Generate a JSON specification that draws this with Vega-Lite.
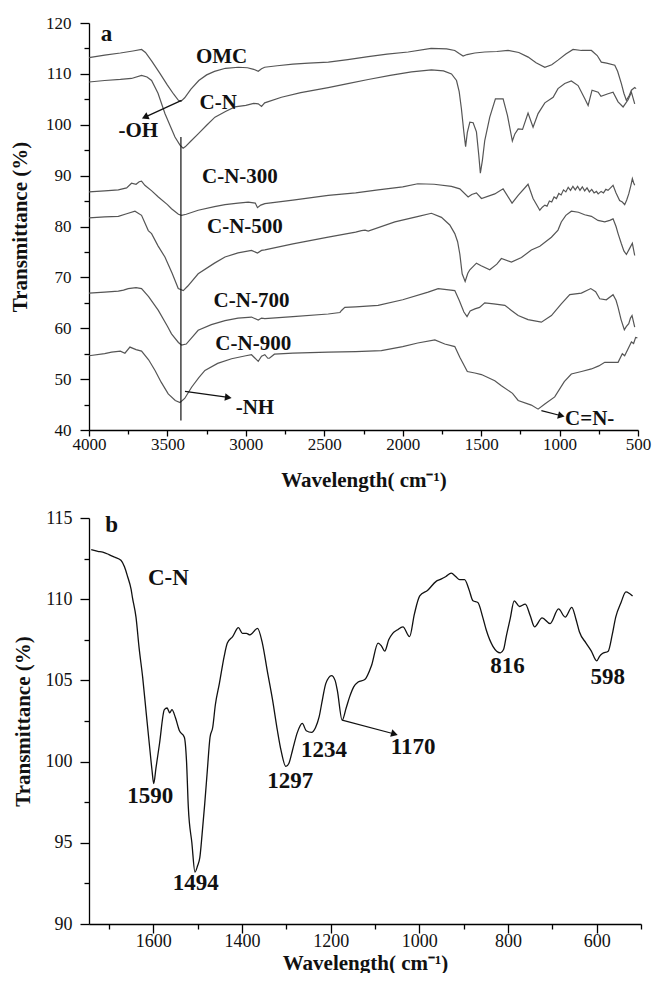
{
  "$schema": "https://vega.github.io/schema/vega-lite/v6.json",
  "background": "white",
  "padding": {"left": 9, "top": 14, "right": 6, "bottom": 0},
  "spacing": 19,
  "config": {
    "view": {"stroke": null},
    "axis": {"grid": false, "domainColor": "#000", "tickColor": "#000", "labelColor": "#111", "titleColor": "#111", "labelFont": "Liberation Serif", "titleFont": "Liberation Serif", "titleFontWeight": "bold", "domainWidth": 1.3, "tickWidth": 1.3}
  },
  "datasets": {
    "a": [
      {"s":"OMC","w":4000,"T":113.2},{"s":"OMC","w":3900,"T":113.7},{"s":"OMC","w":3800,"T":114.1},{"s":"OMC","w":3720,"T":114.5},{"s":"OMC","w":3665,"T":114.8},{"s":"OMC","w":3640,"T":114.2},{"s":"OMC","w":3600,"T":112.5},{"s":"OMC","w":3550,"T":110.2},{"s":"OMC","w":3500,"T":107.8},{"s":"OMC","w":3460,"T":106},{"s":"OMC","w":3430,"T":104.8},{"s":"OMC","w":3414,"T":104.6},{"s":"OMC","w":3390,"T":105.3},{"s":"OMC","w":3350,"T":107},{"s":"OMC","w":3300,"T":108.7},{"s":"OMC","w":3250,"T":109.8},{"s":"OMC","w":3200,"T":110.5},{"s":"OMC","w":3130,"T":111.1},{"s":"OMC","w":3048,"T":111.3},{"s":"OMC","w":2990,"T":111.2},{"s":"OMC","w":2950,"T":110.9},{"s":"OMC","w":2921,"T":110.5},{"s":"OMC","w":2900,"T":111},{"s":"OMC","w":2880,"T":111.3},{"s":"OMC","w":2800,"T":111.6},{"s":"OMC","w":2700,"T":111.9},{"s":"OMC","w":2600,"T":112.1},{"s":"OMC","w":2474,"T":112.3},{"s":"OMC","w":2350,"T":112.8},{"s":"OMC","w":2220,"T":113.4},{"s":"OMC","w":2100,"T":113.9},{"s":"OMC","w":1965,"T":114.3},{"s":"OMC","w":1819,"T":115},{"s":"OMC","w":1720,"T":114.9},{"s":"OMC","w":1668,"T":114.6},{"s":"OMC","w":1640,"T":114},{"s":"OMC","w":1615,"T":113.5},{"s":"OMC","w":1590,"T":113.8},{"s":"OMC","w":1540,"T":114.1},{"s":"OMC","w":1477,"T":114.3},{"s":"OMC","w":1400,"T":114.4},{"s":"OMC","w":1328,"T":114.6},{"s":"OMC","w":1260,"T":114.2},{"s":"OMC","w":1200,"T":113.3},{"s":"OMC","w":1150,"T":112.2},{"s":"OMC","w":1094,"T":111.3},{"s":"OMC","w":1050,"T":111.8},{"s":"OMC","w":1010,"T":112.7},{"s":"OMC","w":960,"T":113.9},{"s":"OMC","w":914,"T":114.8},{"s":"OMC","w":860,"T":114.6},{"s":"OMC","w":797,"T":114.6},{"s":"OMC","w":760,"T":113.6},{"s":"OMC","w":734,"T":112.3},{"s":"OMC","w":700,"T":112.1},{"s":"OMC","w":648,"T":111.7},{"s":"OMC","w":630,"T":110.5},{"s":"OMC","w":606,"T":108.1},{"s":"OMC","w":590,"T":106.2},{"s":"OMC","w":574,"T":104.8},{"s":"OMC","w":555,"T":105.8},{"s":"OMC","w":542,"T":106.8},{"s":"OMC","w":521,"T":107.3},{"s":"OMC","w":512,"T":107.1},
      {"s":"CN","w":4000,"T":108.4},{"s":"CN","w":3900,"T":108.7},{"s":"CN","w":3800,"T":108.9},{"s":"CN","w":3729,"T":109.1},{"s":"CN","w":3665,"T":109.7},{"s":"CN","w":3630,"T":109.4},{"s":"CN","w":3601,"T":108.7},{"s":"CN","w":3560,"T":106.2},{"s":"CN","w":3516,"T":102.2},{"s":"CN","w":3480,"T":99.6},{"s":"CN","w":3452,"T":97.6},{"s":"CN","w":3420,"T":96},{"s":"CN","w":3400,"T":95.4},{"s":"CN","w":3385,"T":95.7},{"s":"CN","w":3350,"T":96.8},{"s":"CN","w":3304,"T":98.2},{"s":"CN","w":3250,"T":99.9},{"s":"CN","w":3197,"T":101.5},{"s":"CN","w":3130,"T":102.6},{"s":"CN","w":3070,"T":103.5},{"s":"CN","w":3000,"T":103.8},{"s":"CN","w":2950,"T":104.2},{"s":"CN","w":2921,"T":104.1},{"s":"CN","w":2900,"T":103.6},{"s":"CN","w":2880,"T":104.3},{"s":"CN","w":2773,"T":105.4},{"s":"CN","w":2650,"T":106.3},{"s":"CN","w":2475,"T":107.3},{"s":"CN","w":2350,"T":108.1},{"s":"CN","w":2220,"T":108.9},{"s":"CN","w":2080,"T":109.7},{"s":"CN","w":1944,"T":110.4},{"s":"CN","w":1817,"T":110.8},{"s":"CN","w":1740,"T":110.6},{"s":"CN","w":1689,"T":110},{"s":"CN","w":1657,"T":108.7},{"s":"CN","w":1640,"T":106.5},{"s":"CN","w":1626,"T":103.2},{"s":"CN","w":1610,"T":98.5},{"s":"CN","w":1599,"T":95.7},{"s":"CN","w":1588,"T":98.5},{"s":"CN","w":1572,"T":100.5},{"s":"CN","w":1551,"T":100.4},{"s":"CN","w":1530,"T":98.6},{"s":"CN","w":1515,"T":94},{"s":"CN","w":1505,"T":90.5},{"s":"CN","w":1492,"T":93},{"s":"CN","w":1477,"T":96.9},{"s":"CN","w":1445,"T":101.5},{"s":"CN","w":1409,"T":105.1},{"s":"CN","w":1360,"T":105.1},{"s":"CN","w":1332,"T":101.8},{"s":"CN","w":1301,"T":96.8},{"s":"CN","w":1285,"T":98.2},{"s":"CN","w":1264,"T":99.2},{"s":"CN","w":1236,"T":99.1},{"s":"CN","w":1201,"T":102.3},{"s":"CN","w":1169,"T":99.5},{"s":"CN","w":1137,"T":102.2},{"s":"CN","w":1094,"T":104.3},{"s":"CN","w":1041,"T":105.4},{"s":"CN","w":1010,"T":107.1},{"s":"CN","w":967,"T":108.1},{"s":"CN","w":925,"T":108.6},{"s":"CN","w":882,"T":107.7},{"s":"CN","w":839,"T":105.1},{"s":"CN","w":818,"T":103.8},{"s":"CN","w":793,"T":106.8},{"s":"CN","w":754,"T":106.4},{"s":"CN","w":736,"T":105.6},{"s":"CN","w":691,"T":106.1},{"s":"CN","w":659,"T":106.4},{"s":"CN","w":627,"T":104.5},{"s":"CN","w":595,"T":103.5},{"s":"CN","w":563,"T":104.9},{"s":"CN","w":542,"T":106.4},{"s":"CN","w":521,"T":104.1},
      {"s":"CN300","w":4000,"T":86.8},{"s":"CN300","w":3900,"T":87},{"s":"CN300","w":3813,"T":87.2},{"s":"CN300","w":3760,"T":87.6},{"s":"CN300","w":3729,"T":88.5},{"s":"CN300","w":3700,"T":88.3},{"s":"CN300","w":3680,"T":88.8},{"s":"CN300","w":3665,"T":88.9},{"s":"CN300","w":3644,"T":88.1},{"s":"CN300","w":3600,"T":87},{"s":"CN300","w":3558,"T":85.8},{"s":"CN300","w":3500,"T":84.3},{"s":"CN300","w":3474,"T":83.5},{"s":"CN300","w":3430,"T":82.4},{"s":"CN300","w":3410,"T":82.2},{"s":"CN300","w":3380,"T":82.4},{"s":"CN300","w":3304,"T":83.2},{"s":"CN300","w":3200,"T":83.9},{"s":"CN300","w":3133,"T":84.3},{"s":"CN300","w":3050,"T":84.6},{"s":"CN300","w":2985,"T":84.8},{"s":"CN300","w":2940,"T":84.6},{"s":"CN300","w":2926,"T":83.7},{"s":"CN300","w":2905,"T":84.2},{"s":"CN300","w":2879,"T":84.5},{"s":"CN300","w":2700,"T":85.2},{"s":"CN300","w":2475,"T":86.1},{"s":"CN300","w":2300,"T":86.6},{"s":"CN300","w":2157,"T":87.2},{"s":"CN300","w":2000,"T":87.8},{"s":"CN300","w":1904,"T":88.4},{"s":"CN300","w":1800,"T":88.3},{"s":"CN300","w":1689,"T":87.9},{"s":"CN300","w":1636,"T":87.4},{"s":"CN300","w":1583,"T":85.8},{"s":"CN300","w":1560,"T":86.3},{"s":"CN300","w":1530,"T":86.6},{"s":"CN300","w":1498,"T":85.5},{"s":"CN300","w":1413,"T":86.4},{"s":"CN300","w":1360,"T":87.4},{"s":"CN300","w":1303,"T":84.6},{"s":"CN300","w":1264,"T":86.1},{"s":"CN300","w":1201,"T":88.3},{"s":"CN300","w":1169,"T":85.5},{"s":"CN300","w":1126,"T":83.2},{"s":"CN300","w":1110,"T":83.8},{"s":"CN300","w":1094,"T":84.2},{"s":"CN300","w":1080,"T":84.0},{"s":"CN300","w":1065,"T":85.0},{"s":"CN300","w":1050,"T":84.8},{"s":"CN300","w":1035,"T":85.8},{"s":"CN300","w":1020,"T":85.5},{"s":"CN300","w":1005,"T":86.5},{"s":"CN300","w":990,"T":86.2},{"s":"CN300","w":975,"T":87.2},{"s":"CN300","w":960,"T":86.8},{"s":"CN300","w":945,"T":87.7},{"s":"CN300","w":930,"T":87.1},{"s":"CN300","w":915,"T":87.9},{"s":"CN300","w":900,"T":87.2},{"s":"CN300","w":885,"T":87.9},{"s":"CN300","w":870,"T":87.1},{"s":"CN300","w":855,"T":87.8},{"s":"CN300","w":840,"T":87.0},{"s":"CN300","w":825,"T":87.6},{"s":"CN300","w":810,"T":86.8},{"s":"CN300","w":795,"T":87.3},{"s":"CN300","w":780,"T":86.6},{"s":"CN300","w":765,"T":86.9},{"s":"CN300","w":754,"T":86.4},{"s":"CN300","w":735,"T":86.9},{"s":"CN300","w":720,"T":86.6},{"s":"CN300","w":705,"T":87.3},{"s":"CN300","w":691,"T":87.1},{"s":"CN300","w":675,"T":87.6},{"s":"CN300","w":659,"T":88.1},{"s":"CN300","w":640,"T":86.6},{"s":"CN300","w":617,"T":85.1},{"s":"CN300","w":600,"T":84.8},{"s":"CN300","w":585,"T":84.3},{"s":"CN300","w":572,"T":85.2},{"s":"CN300","w":559,"T":86.4},{"s":"CN300","w":546,"T":88.0},{"s":"CN300","w":536,"T":89.4},{"s":"CN300","w":528,"T":88.6},{"s":"CN300","w":521,"T":88.1},
      {"s":"CN500","w":4000,"T":81.7},{"s":"CN500","w":3900,"T":81.9},{"s":"CN500","w":3813,"T":82},{"s":"CN500","w":3760,"T":82.5},{"s":"CN500","w":3707,"T":83},{"s":"CN500","w":3665,"T":82.2},{"s":"CN500","w":3622,"T":79.2},{"s":"CN500","w":3601,"T":78.6},{"s":"CN500","w":3560,"T":76.2},{"s":"CN500","w":3516,"T":74},{"s":"CN500","w":3470,"T":70.8},{"s":"CN500","w":3431,"T":67.8},{"s":"CN500","w":3399,"T":67.4},{"s":"CN500","w":3370,"T":68.3},{"s":"CN500","w":3304,"T":70.7},{"s":"CN500","w":3200,"T":72.8},{"s":"CN500","w":3133,"T":74},{"s":"CN500","w":3050,"T":74.8},{"s":"CN500","w":2964,"T":75.3},{"s":"CN500","w":2926,"T":74.8},{"s":"CN500","w":2900,"T":75.3},{"s":"CN500","w":2879,"T":75.4},{"s":"CN500","w":2700,"T":76.6},{"s":"CN500","w":2475,"T":77.9},{"s":"CN500","w":2300,"T":78.9},{"s":"CN500","w":2263,"T":79.2},{"s":"CN500","w":2240,"T":79.3},{"s":"CN500","w":2220,"T":79.1},{"s":"CN500","w":2050,"T":80.9},{"s":"CN500","w":1900,"T":82},{"s":"CN500","w":1817,"T":82.6},{"s":"CN500","w":1753,"T":81.8},{"s":"CN500","w":1700,"T":80.3},{"s":"CN500","w":1668,"T":78.6},{"s":"CN500","w":1650,"T":77},{"s":"CN500","w":1636,"T":74.6},{"s":"CN500","w":1621,"T":70.7},{"s":"CN500","w":1602,"T":69.2},{"s":"CN500","w":1585,"T":70.8},{"s":"CN500","w":1572,"T":71.5},{"s":"CN500","w":1530,"T":72.8},{"s":"CN500","w":1500,"T":72.3},{"s":"CN500","w":1445,"T":71.5},{"s":"CN500","w":1400,"T":72.6},{"s":"CN500","w":1371,"T":73.7},{"s":"CN500","w":1307,"T":73},{"s":"CN500","w":1243,"T":73.9},{"s":"CN500","w":1180,"T":75.4},{"s":"CN500","w":1126,"T":76.1},{"s":"CN500","w":1052,"T":77.9},{"s":"CN500","w":1010,"T":79.3},{"s":"CN500","w":989,"T":80.9},{"s":"CN500","w":960,"T":82.2},{"s":"CN500","w":925,"T":83},{"s":"CN500","w":880,"T":82.8},{"s":"CN500","w":840,"T":82.3},{"s":"CN500","w":797,"T":82},{"s":"CN500","w":755,"T":81.2},{"s":"CN500","w":712,"T":80.9},{"s":"CN500","w":680,"T":81.2},{"s":"CN500","w":659,"T":81.5},{"s":"CN500","w":640,"T":80},{"s":"CN500","w":627,"T":78.6},{"s":"CN500","w":606,"T":76.6},{"s":"CN500","w":590,"T":75.2},{"s":"CN500","w":574,"T":74.5},{"s":"CN500","w":555,"T":75.6},{"s":"CN500","w":536,"T":76.7},{"s":"CN500","w":521,"T":74.3},
      {"s":"CN700","w":4000,"T":66.9},{"s":"CN700","w":3900,"T":67.1},{"s":"CN700","w":3813,"T":67.3},{"s":"CN700","w":3780,"T":67.5},{"s":"CN700","w":3750,"T":67.8},{"s":"CN700","w":3700,"T":68},{"s":"CN700","w":3665,"T":67.8},{"s":"CN700","w":3620,"T":66.2},{"s":"CN700","w":3558,"T":63.5},{"s":"CN700","w":3500,"T":60.4},{"s":"CN700","w":3474,"T":58.9},{"s":"CN700","w":3430,"T":57.2},{"s":"CN700","w":3410,"T":56.7},{"s":"CN700","w":3380,"T":56.9},{"s":"CN700","w":3304,"T":59.6},{"s":"CN700","w":3220,"T":60.7},{"s":"CN700","w":3133,"T":61.5},{"s":"CN700","w":3050,"T":62},{"s":"CN700","w":2964,"T":62.2},{"s":"CN700","w":2921,"T":61.6},{"s":"CN700","w":2900,"T":62},{"s":"CN700","w":2879,"T":61.9},{"s":"CN700","w":2700,"T":62.3},{"s":"CN700","w":2475,"T":62.8},{"s":"CN700","w":2400,"T":63.1},{"s":"CN700","w":2390,"T":63.5},{"s":"CN700","w":2369,"T":64.1},{"s":"CN700","w":2300,"T":64.2},{"s":"CN700","w":2157,"T":64.5},{"s":"CN700","w":2000,"T":65.6},{"s":"CN700","w":1838,"T":67.1},{"s":"CN700","w":1774,"T":67.8},{"s":"CN700","w":1720,"T":67.6},{"s":"CN700","w":1668,"T":67.4},{"s":"CN700","w":1640,"T":65.5},{"s":"CN700","w":1610,"T":63.2},{"s":"CN700","w":1590,"T":62.3},{"s":"CN700","w":1570,"T":63.4},{"s":"CN700","w":1540,"T":63.8},{"s":"CN700","w":1510,"T":64.1},{"s":"CN700","w":1477,"T":65},{"s":"CN700","w":1420,"T":64.8},{"s":"CN700","w":1349,"T":64.5},{"s":"CN700","w":1307,"T":63.5},{"s":"CN700","w":1264,"T":62.5},{"s":"CN700","w":1201,"T":61.7},{"s":"CN700","w":1116,"T":61.2},{"s":"CN700","w":1052,"T":62.5},{"s":"CN700","w":989,"T":64.8},{"s":"CN700","w":935,"T":66.6},{"s":"CN700","w":861,"T":66.9},{"s":"CN700","w":801,"T":67.8},{"s":"CN700","w":770,"T":67.2},{"s":"CN700","w":744,"T":65.8},{"s":"CN700","w":702,"T":65.6},{"s":"CN700","w":659,"T":66.6},{"s":"CN700","w":640,"T":65.5},{"s":"CN700","w":627,"T":64.1},{"s":"CN700","w":608,"T":61.7},{"s":"CN700","w":587,"T":59.7},{"s":"CN700","w":575,"T":60.3},{"s":"CN700","w":559,"T":60.9},{"s":"CN700","w":548,"T":62},{"s":"CN700","w":538,"T":62.5},{"s":"CN700","w":521,"T":60.2},
      {"s":"CN900","w":4000,"T":54.6},{"s":"CN900","w":3900,"T":55},{"s":"CN900","w":3856,"T":55.3},{"s":"CN900","w":3800,"T":55.5},{"s":"CN900","w":3771,"T":55.1},{"s":"CN900","w":3739,"T":56.3},{"s":"CN900","w":3700,"T":55.8},{"s":"CN900","w":3665,"T":55.5},{"s":"CN900","w":3620,"T":53.8},{"s":"CN900","w":3579,"T":51.7},{"s":"CN900","w":3540,"T":49.4},{"s":"CN900","w":3495,"T":47.1},{"s":"CN900","w":3450,"T":45.8},{"s":"CN900","w":3420,"T":45.4},{"s":"CN900","w":3390,"T":46.2},{"s":"CN900","w":3346,"T":48.4},{"s":"CN900","w":3300,"T":50.3},{"s":"CN900","w":3261,"T":51.7},{"s":"CN900","w":3180,"T":53.1},{"s":"CN900","w":3091,"T":54},{"s":"CN900","w":3000,"T":54.6},{"s":"CN900","w":2964,"T":54.8},{"s":"CN900","w":2921,"T":53.5},{"s":"CN900","w":2900,"T":54.5},{"s":"CN900","w":2879,"T":54.8},{"s":"CN900","w":2860,"T":54.1},{"s":"CN900","w":2850,"T":54.1},{"s":"CN900","w":2818,"T":54.9},{"s":"CN900","w":2700,"T":55.1},{"s":"CN900","w":2475,"T":55.3},{"s":"CN900","w":2300,"T":55.4},{"s":"CN900","w":2136,"T":55.6},{"s":"CN900","w":2000,"T":56.4},{"s":"CN900","w":1904,"T":57.1},{"s":"CN900","w":1795,"T":57.7},{"s":"CN900","w":1732,"T":56.9},{"s":"CN900","w":1668,"T":56.4},{"s":"CN900","w":1636,"T":54.3},{"s":"CN900","w":1588,"T":51.5},{"s":"CN900","w":1540,"T":51.2},{"s":"CN900","w":1498,"T":50.9},{"s":"CN900","w":1413,"T":49.7},{"s":"CN900","w":1371,"T":48.7},{"s":"CN900","w":1300,"T":47.2},{"s":"CN900","w":1264,"T":45.8},{"s":"CN900","w":1180,"T":44.9},{"s":"CN900","w":1137,"T":44.1},{"s":"CN900","w":1094,"T":45.1},{"s":"CN900","w":1031,"T":46.5},{"s":"CN900","w":970,"T":49.5},{"s":"CN900","w":925,"T":51},{"s":"CN900","w":860,"T":51.5},{"s":"CN900","w":797,"T":52},{"s":"CN900","w":750,"T":52.6},{"s":"CN900","w":712,"T":53.3},{"s":"CN900","w":670,"T":53.3},{"s":"CN900","w":627,"T":53.3},{"s":"CN900","w":600,"T":55},{"s":"CN900","w":585,"T":54.6},{"s":"CN900","w":574,"T":55.3},{"s":"CN900","w":553,"T":56.6},{"s":"CN900","w":542,"T":57.3},{"s":"CN900","w":528,"T":57},{"s":"CN900","w":515,"T":58.2},{"s":"CN900","w":504,"T":58.1}
    ],
    "rulesA": [
      {"id":"v","w":3414,"T":97.6,"w2":3414,"T2":41.85},
      {"id":"OH","w":3410,"T":104.8,"w2":3643,"T2":101.5},
      {"id":"NH","w":3388,"T":47.6,"w2":3112,"T2":46.4},
      {"id":"CN","w":1116,"T":43.8,"w2":989,"T2":42.8}
    ],
    "headsA": [
      {"id":"OH","w":3643,"T":101.5},
      {"id":"NH","w":3112,"T":46.4},
      {"id":"CN","w":989,"T":42.8}
    ],
    "labA": [
      {"label":"a","w":3888,"T":117.9},
      {"label":"OMC","w":3155,"T":113.3},
      {"label":"C-N","w":3176,"T":104.3},
      {"label":"-OH","w":3686,"T":98.8},
      {"label":"C-N-300","w":3038,"T":89.8},
      {"label":"C-N-500","w":3006,"T":79.9},
      {"label":"C-N-700","w":2964,"T":65.3},
      {"label":"C-N-900","w":2953,"T":56.9},
      {"label":"-NH","w":2942,"T":44.35},
      {"label":"C=N-","w":808,"T":42.2}
    ],
    "b": [
      {"w":1740,"T":113.05},{"w":1725,"T":112.95},{"w":1714,"T":112.9},{"w":1700,"T":112.75},{"w":1688,"T":112.6},{"w":1673,"T":112.4},{"w":1665,"T":112.0},{"w":1658,"T":111.4},{"w":1650,"T":110.6},{"w":1647,"T":110.1},{"w":1639,"T":108.9},{"w":1632,"T":107},{"w":1624,"T":105.2},{"w":1616,"T":103},{"w":1609,"T":101.1},{"w":1603,"T":99.5},{"w":1599,"T":98.65},{"w":1594,"T":99.6},{"w":1586,"T":101.1},{"w":1575,"T":103.2},{"w":1569,"T":103.3},{"w":1565,"T":103.1},{"w":1563,"T":103},{"w":1558,"T":103.2},{"w":1550,"T":102.7},{"w":1541,"T":101.9},{"w":1530,"T":101.5},{"w":1525,"T":100},{"w":1521,"T":97.2},{"w":1513,"T":95},{"w":1506,"T":93.2},{"w":1500,"T":93.6},{"w":1495,"T":94.1},{"w":1490,"T":95.5},{"w":1484,"T":97.4},{"w":1478,"T":99.5},{"w":1472,"T":101.5},{"w":1466,"T":102.1},{"w":1460,"T":103.5},{"w":1451,"T":104.8},{"w":1440,"T":106.5},{"w":1433,"T":107.3},{"w":1421,"T":107.7},{"w":1408,"T":108.25},{"w":1399,"T":107.9},{"w":1390,"T":107.9},{"w":1382,"T":107.8},{"w":1365,"T":108.2},{"w":1354,"T":107.3},{"w":1343,"T":105.6},{"w":1331,"T":103.8},{"w":1320,"T":101.9},{"w":1312,"T":100.7},{"w":1301,"T":99.7},{"w":1294,"T":99.9},{"w":1286,"T":100.7},{"w":1275,"T":101.8},{"w":1264,"T":102.35},{"w":1255,"T":101.9},{"w":1243,"T":101.8},{"w":1234,"T":102.1},{"w":1226,"T":102.75},{"w":1218,"T":103.9},{"w":1211,"T":104.8},{"w":1198,"T":105.3},{"w":1190,"T":105},{"w":1185,"T":104.4},{"w":1174,"T":102.55},{"w":1165,"T":103.3},{"w":1157,"T":104},{"w":1148,"T":104.6},{"w":1138,"T":104.9},{"w":1123,"T":105.05},{"w":1108,"T":105.9},{"w":1093,"T":107.3},{"w":1085,"T":107.1},{"w":1078,"T":106.8},{"w":1069,"T":107.5},{"w":1060,"T":107.9},{"w":1050,"T":108.1},{"w":1037,"T":108.3},{"w":1022,"T":107.7},{"w":1011,"T":109.1},{"w":999,"T":110.2},{"w":981,"T":110.55},{"w":962,"T":111.1},{"w":954,"T":111.2},{"w":950,"T":111.25},{"w":940,"T":111.4},{"w":928,"T":111.6},{"w":918,"T":111.4},{"w":909,"T":111.2},{"w":898,"T":111.2},{"w":888,"T":110.6},{"w":879,"T":109.9},{"w":868,"T":109.8},{"w":857,"T":108.9},{"w":849,"T":108.1},{"w":834,"T":107.1},{"w":817,"T":106.7},{"w":810,"T":106.9},{"w":804,"T":107.7},{"w":795,"T":108.8},{"w":786,"T":109.9},{"w":774,"T":109.55},{"w":761,"T":109.7},{"w":750,"T":109.0},{"w":740,"T":108.3},{"w":723,"T":108.85},{"w":705,"T":108.5},{"w":686,"T":109.4},{"w":671,"T":108.9},{"w":656,"T":109.5},{"w":647,"T":108.8},{"w":639,"T":108},{"w":624,"T":107.3},{"w":612,"T":106.8},{"w":600,"T":106.2},{"w":593,"T":106.5},{"w":587,"T":106.65},{"w":574,"T":106.8},{"w":565,"T":107.8},{"w":557,"T":108.9},{"w":545,"T":109.8},{"w":534,"T":110.45},{"w":526,"T":110.35},{"w":519,"T":110.2}
    ],
    "rulesB": [{"id":"1170","w":1174,"T":102.55,"w2":1056,"T2":101.7}],
    "headsB": [{"id":"1170","w":1056,"T":101.7}],
    "labB": [
      {"label":"b","w":1694,"T":114.55},
      {"label":"C-N","w":1566,"T":111.3},
      {"label":"1590","w":1607,"T":97.9},
      {"label":"1494","w":1504,"T":92.5},
      {"label":"1297","w":1291,"T":98.8},
      {"label":"1234","w":1215,"T":100.7},
      {"label":"1170","w":1014,"T":100.9},
      {"label":"816","w":801,"T":105.9},
      {"label":"598","w":575,"T":105.2}
    ]
  },
  "vconcat": [
    {
      "width": 549,
      "height": 407,
      "encoding": {
        "x": {"field": "w", "type": "quantitative",
          "scale": {"domain": [500, 4000], "reverse": true, "nice": false, "zero": false},
          "axis": {"values": [500,750,1000,1250,1500,1750,2000,2250,2500,2750,3000,3250,3500,3750,4000], "format": "d",
            "labelExpr": "datum.value % 500 === 0 ? datum.label : ''",
            "tickSize": {"condition": {"test": "datum.value % 500 === 0", "value": 6}, "value": 4},
            "labelFontSize": 17, "labelPadding": 0, "labelFlush": false,
            "title": "Wavelength( cm⁻¹)", "titleFontSize": 21, "titlePadding": 17}},
        "y": {"field": "T", "type": "quantitative",
          "scale": {"domain": [40, 120], "nice": false, "zero": false},
          "axis": {"values": [40,45,50,55,60,65,70,75,80,85,90,95,100,105,110,115,120],
            "labelExpr": "datum.value % 10 === 0 ? datum.label : ''",
            "tickSize": {"condition": {"test": "datum.value % 10 === 0", "value": 9}, "value": 5},
            "labelFontSize": 17, "labelPadding": 9, "labelFlush": false,
            "title": "Transmittance (%)", "titleFontSize": 21, "titlePadding": 15}}
      },
      "layer": [
        {"data": {"name": "a"}, "mark": {"type": "line", "color": "#555", "strokeWidth": 1.2}, "encoding": {"detail": {"field": "s"}}},
        {"data": {"name": "rulesA"}, "mark": {"type": "rule", "color": "#111", "strokeWidth": 1.2}, "encoding": {"x2": {"field": "w2"}, "y2": {"field": "T2"}}},
        {"data": {"name": "headsA"}, "transform": [{"filter": "datum.id === 'OH'"}], "mark": {"type": "point", "shape": "triangle-up", "filled": true, "opacity": 1, "color": "#111", "size": 60, "angle": 245}},
        {"data": {"name": "headsA"}, "transform": [{"filter": "datum.id === 'NH'"}], "mark": {"type": "point", "shape": "triangle-up", "filled": true, "opacity": 1, "color": "#111", "size": 60, "angle": 98}},
        {"data": {"name": "headsA"}, "transform": [{"filter": "datum.id === 'CN'"}], "mark": {"type": "point", "shape": "triangle-up", "filled": true, "opacity": 1, "color": "#111", "size": 60, "angle": 104}},
        {"data": {"name": "labA"}, "transform": [{"filter": "datum.label !== 'a'"}], "mark": {"type": "text", "font": "Liberation Serif", "fontWeight": "bold", "fontSize": 21, "color": "#111"}, "encoding": {"text": {"field": "label"}}},
        {"data": {"name": "labA"}, "transform": [{"filter": "datum.label === 'a'"}], "mark": {"type": "text", "font": "Liberation Serif", "fontWeight": "bold", "fontSize": 23, "color": "#111"}, "encoding": {"text": {"field": "label"}}}
      ]
    },
    {
      "width": 552,
      "height": 406,
      "encoding": {
        "x": {"field": "w", "type": "quantitative",
          "scale": {"domain": [500, 1745], "reverse": true, "nice": false, "zero": false},
          "axis": {"values": [500,600,700,800,900,1000,1100,1200,1300,1400,1500,1600,1700], "format": "d",
            "labelExpr": "datum.value % 200 === 0 ? datum.label : ''",
            "tickSize": {"condition": {"test": "datum.value % 200 === 0", "value": 9}, "value": 5},
            "labelFontSize": 18, "labelPadding": -1, "labelFlush": false,
            "title": "Wavelength( cm⁻¹)", "titleFontSize": 21, "titlePadding": 2}},
        "y": {"field": "T", "type": "quantitative",
          "scale": {"domain": [90, 115], "nice": false, "zero": false},
          "axis": {"values": [90,92.5,95,97.5,100,102.5,105,107.5,110,112.5,115],
            "labelExpr": "datum.value % 5 === 0 ? datum.label : ''",
            "tickSize": {"condition": {"test": "datum.value % 5 === 0", "value": 9}, "value": 5},
            "labelFontSize": 18, "labelPadding": 8, "labelFlush": false,
            "title": "Transmittance (%)", "titleFontSize": 21, "titlePadding": 12}}
      },
      "layer": [
        {"data": {"name": "b"}, "mark": {"type": "line", "color": "#111", "strokeWidth": 1.3, "interpolate": "monotone"}},
        {"data": {"name": "rulesB"}, "mark": {"type": "rule", "color": "#111", "strokeWidth": 1.2}, "encoding": {"x2": {"field": "w2"}, "y2": {"field": "T2"}}},
        {"data": {"name": "headsB"}, "mark": {"type": "point", "shape": "triangle-up", "filled": true, "opacity": 1, "color": "#111", "size": 60, "angle": 106}},
        {"data": {"name": "labB"}, "mark": {"type": "text", "font": "Liberation Serif", "fontWeight": "bold", "fontSize": 23, "color": "#111"}, "encoding": {"text": {"field": "label"}}}
      ]
    }
  ]
}
